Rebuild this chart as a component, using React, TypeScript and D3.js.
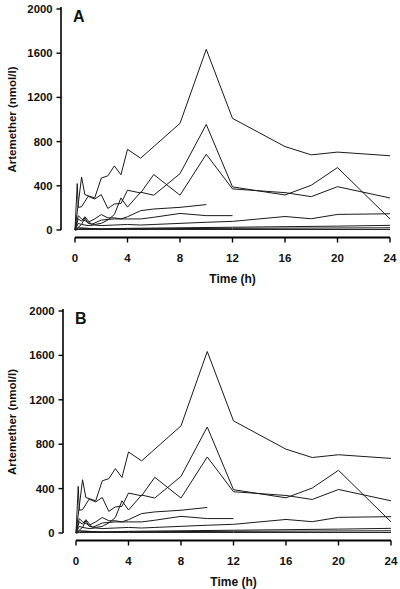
import React from "react";
import * as d3 from "d3";

// Time (h), Artemether (nmol/l) per subject
const subject1: [number, number][] = [[0,0],[0.5,480],[0.75,320],[1.5,290],[2,470],[2.5,490],[3,580],[3.5,500],[4,730],[5,650],[8,965],[10,1635],[12,1010],[16,755],[18,680],[20,705],[24,672]];
const subject2: [number, number][] = [[0,0],[0.17,420],[0.25,205],[0.5,210],[1,305],[1.5,280],[2,320],[2.5,195],[3,235],[3.5,240],[4,360],[5,335],[6,502],[8,315],[10,685],[12,372],[16,338],[18,302],[20,392],[24,290]];
const subject3: [number, number][] = [[0,0],[0.5,50],[0.75,110],[1,60],[1.5,50],[2,60],[2.5,90],[3,140],[3.5,290],[4,207],[5,342],[6,315],[8,510],[10,955],[12,390],[16,317],[18,405],[20,565],[24,100]];
const subject4: [number, number][] = [[0,0],[0.25,130],[0.5,100],[1,70],[1.5,100],[2,140],[2.5,110],[3,110],[3.5,100],[4,120],[5,175],[6,190],[8,205],[10,230]];
const subject5: [number, number][] = [[0,0],[0.25,100],[0.5,80],[0.75,120],[1.25,50],[2,90],[3,100],[4,100],[5,100],[6,115],[8,150],[10,130],[12,130]];
const subject6: [number, number][] = [[0,0],[0.25,60],[0.5,50],[1,40],[1.5,45],[2,40],[3,45],[4,50],[5,45],[6,50],[8,60],[10,70],[12,78],[16,122],[18,102],[20,141],[24,147]];
const subject7: [number, number][] = [[0,0],[0.25,20],[1,15],[2,10],[4,15],[8,20],[12,25],[16,30],[20,35],[24,42]];
const subject8: [number, number][] = [[0,0],[0.5,15],[2,10],[6,12],[12,15],[24,20]];
const subject9: [number, number][] = [[0,0],[0.25,5],[4,5],[12,5],[24,5]];

const allSubjects = [subject1, subject2, subject3, subject4, subject5, subject6, subject7, subject8, subject9];

const xTicks = [0, 4, 8, 12, 16, 20, 24];
const yTicks = [0, 400, 800, 1200, 1600, 2000];

const panels = [
  { label: "A", top: 9, bottom: 230, yAxisX: 61, x0: 75, x1: 390 },
  { label: "B", top: 311, bottom: 533, yAxisX: 63, x0: 76, x1: 391 },
];

const FONT = "'Liberation Sans', Arial, sans-serif";

function Panel({ p }: { p: typeof panels[number] }) {
  const x = d3.scaleLinear().domain([0, 24]).range([p.x0, p.x1]);
  const y = d3.scaleLinear().domain([0, 2000]).range([p.bottom, p.top]);
  const line = d3.line<[number, number]>().x(d => x(d[0])).y(d => y(d[1]));
  const xAxisY = p.bottom + 7.5;
  return (
    <g>
      {/* y axis */}
      <line x1={p.yAxisX} x2={p.yAxisX} y1={p.top - 2} y2={p.bottom} stroke="#000" strokeWidth={1.6} />
      {yTicks.map(t => (
        <g key={t}>
          <line x1={p.yAxisX - 4.5} x2={p.yAxisX} y1={y(t)} y2={y(t)} stroke="#000" strokeWidth={1.4} />
          <text x={p.yAxisX - 8.5} y={y(t) + 4} textAnchor="end" fontFamily={FONT} fontWeight="bold" fontSize={11.3} fill="#111">{t}</text>
        </g>
      ))}
      <text transform={`translate(${15.5},${(p.top + p.bottom) / 2}) rotate(-90)`} textAnchor="middle" fontFamily={FONT} fontWeight="bold" fontSize={11.5} fill="#111">Artemether (nmol/l)</text>
      {/* x axis */}
      <line x1={p.x0} x2={p.x1} y1={xAxisY} y2={xAxisY} stroke="#000" strokeWidth={2} />
      {xTicks.map(t => (
        <g key={t}>
          <line x1={x(t)} x2={x(t)} y1={xAxisY} y2={xAxisY + 5} stroke="#000" strokeWidth={1.4} />
          <text x={x(t)} y={xAxisY + 24.5} textAnchor="middle" fontFamily={FONT} fontWeight="bold" fontSize={11.5} fill="#111">{t}</text>
        </g>
      ))}
      <text x={(p.x0 + p.x1) / 2} y={xAxisY + 45} textAnchor="middle" fontFamily={FONT} fontWeight="bold" fontSize={12} fill="#111">Time (h)</text>
      <text x={p.yAxisX + 12} y={p.top + 13} fontFamily={FONT} fontWeight="bold" fontSize={16} fill="#111">{p.label}</text>
      {allSubjects.map((s, i) => (
        <path key={i} d={line(s) || ""} fill="none" stroke="#1a1a1a" strokeWidth={1} strokeLinejoin="miter" />
      ))}
    </g>
  );
}

export default function App() {
  return (
    <svg width={400} height={589} style={{ position: "absolute", left: 0, top: 0, background: "#fff" }}>
      <rect x={0} y={0} width={400} height={589} fill="#fff" />
      {panels.map(p => <Panel key={p.label} p={p} />)}
    </svg>
  );
}
